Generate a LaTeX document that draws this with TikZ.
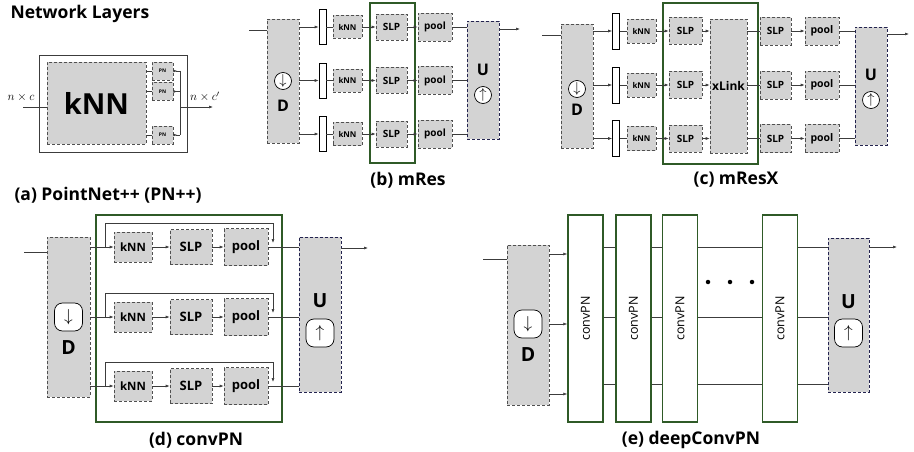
\documentclass[tikz,border=0pt]{standalone}
\usepackage{fontspec}
\setmainfont{Open Sans}
\usepackage{tikz}
\usetikzlibrary{arrows.meta, positioning, calc}
\definecolor{nlGray}{HTML}{D3D3D3}
\definecolor{nlEdge}{HTML}{505050}
\definecolor{nlGreen}{HTML}{2F5A27}
\definecolor{nlNavy}{HTML}{23234F}
\definecolor{nlWire}{HTML}{3C3C3C}
\tikzset{
  fs/.style={font=\bfseries\fontsize{#1}{#1}\selectfont},
  opbox/.style={draw=nlEdge, dash pattern=on 3pt off 2pt, line width=0.6pt, fill=nlGray, inner sep=0pt},
  upbox/.style={opbox, draw=nlNavy},
  convbox/.style={draw=nlGreen, line width=1.3pt, inner sep=0pt},
  splitbar/.style={draw=black, fill=white, line width=0.6pt, minimum width=7, minimum height=35, inner sep=0pt},
  wire/.style={draw=nlWire, line width=0.6pt},
  feed/.style={wire, -{Latex[length=4pt,width=3pt]}},
  backfeed/.style={wire, {Latex[length=4pt,width=3pt,reversed]}-},
  sampler/.style={draw=black, fill=white, circle, line width=0.7pt, inner sep=0pt, minimum size=17, font=\fontsize{15}{15}\selectfont},
  samplersq/.style={draw=black, fill=white, rounded corners=8pt, line width=0.7pt, inner sep=0pt, minimum size=28, font=\fontsize{19}{19}\selectfont},
  subcap/.style={fs=17.5},
}
\begin{document}
\begin{tikzpicture}[x=1pt, y=-1pt]
\useasboundingbox (0,0) rectangle (914,452);

\node[fs=17.5, anchor=west] (title) at (7,14) {Network Layers};

\node[draw=nlWire, line width=0.7pt, minimum width=148, minimum height=97] (pnA) at (113,103.5) {};
\node[opbox, fs=29, minimum width=99, minimum height=82] (knnA) at (96.5,103) {kNN};
\node[opbox, fs=5, minimum width=21, minimum height=18] (pnA1) at (162.5,71) {PN};
\node[opbox, fs=5, minimum width=21, minimum height=18] (pnA2) at (162.5,91.5) {PN};
\node[opbox, fs=5, minimum width=21, minimum height=18] (pnA3) at (162.5,135) {PN};
\coordinate (busA1) at (180,71);
\coordinate (busA3) at (180,135);
\coordinate (inA) at (23,107);
\coordinate (outA) at (213,107);
\draw[wire] (busA1) -- (busA3);
\foreach \r in {1,2,3}{
  \draw[wire] (knnA.east |- pnA\r) -- (pnA\r.west);
  \draw[backfeed] (pnA\r.east) -- (pnA\r.east -| busA1);
}
\draw[wire] (inA) -- (inA -| knnA.west);
\draw[feed] (outA -| busA1) -- (outA);
\node[font=\fontsize{12}{12}\selectfont] (ncA) at (21,97) {$n\times c$};
\node[font=\fontsize{12}{12}\selectfont] (ncoA) at (205,97) {$n\times c'$};
\node[subcap] (capA) at (108,195) {(a) PointNet++ (PN++)};

\node[draw=nlGreen, line width=1.3pt, minimum width=45, minimum height=160] (grpB) at (392.5,83) {};
\node[opbox, minimum width=32, minimum height=124] (dnB) at (283,81) {};
\node[sampler] (dnBs) at (283,81) {$\downarrow$};
\node[fs=16] (dnBl) at (283,106) {D};
\node[upbox, minimum width=32, minimum height=118] (upB) at (483,80) {};
\node[fs=16] (upBl) at (483,70) {U};
\node[sampler] (upBs) at (483,95) {$\uparrow$};
\foreach \r/\y in {1/27,2/80.5,3/134}{
  \node[splitbar] (barB\r) at (322.5,\y) {};
  \node[opbox, fs=8, minimum width=29, minimum height=23] (knnB\r) at (347.5,\y) {kNN};
  \node[opbox, fs=10, minimum width=31, minimum height=26] (slpB\r) at (391.5,\y) {SLP};
  \node[opbox, fs=10, minimum width=34, minimum height=28] (poolB\r) at (435,\y) {pool};
  \draw[feed] (dnB.east |- barB\r) -- (barB\r.west);
  \draw[wire] (barB\r) -- (knnB\r);
  \draw[feed] (knnB\r) -- (slpB\r);
  \draw[feed] (slpB\r) -- (poolB\r);
  \draw[wire] (poolB\r) -- (poolB\r -| upB.west);
}
\coordinate (inB) at (249,30);
\coordinate (outB) at (520,29);
\draw[wire] (inB) -- (inB -| dnB.west);
\draw[feed] (outB -| upB.east) -- (outB);
\node[subcap] (capB) at (408,180) {(b) mRes};

\node[draw=nlGreen, line width=1.3pt, minimum width=95, minimum height=161] (grpC) at (710.5,83.5) {};
\node[opbox, minimum width=32, minimum height=124] (dnC) at (577,86) {};
\node[sampler] (dnCs) at (577,89) {$\downarrow$};
\node[fs=16] (dnCl) at (577,110) {D};
\node[opbox, fs=12, minimum width=37, minimum height=134] (xlC) at (728.5,86) {xLink};
\node[upbox, minimum width=32, minimum height=118] (upC) at (871,86) {};
\node[fs=16] (upCl) at (871,75) {U};
\node[sampler] (upCs) at (871,100) {$\uparrow$};
\foreach \r/\y in {1/31,2/85,3/138.5}{
  \node[splitbar, minimum height=36] (barC\r) at (616,\y) {};
  \node[opbox, fs=8, minimum width=29, minimum height=24] (knnC\r) at (641.5,\y) {kNN};
  \node[opbox, fs=10, minimum width=33, minimum height=27] (slpC\r) at (685.5,\y) {SLP};
  \node[opbox, fs=10, minimum width=31, minimum height=28] (slpoC\r) at (775.5,\y) {SLP};
  \node[opbox, fs=10.5, minimum width=34, minimum height=28] (poolC\r) at (822,\y) {pool};
  \draw[feed] (dnC.east |- barC\r) -- (barC\r.west);
  \draw[wire] (barC\r) -- (knnC\r);
  \draw[feed] (knnC\r) -- (slpC\r);
  \draw[feed] (slpC\r) -- (slpC\r -| xlC.west);
  \draw[wire] (slpoC\r -| xlC.east) -- (slpoC\r);
  \draw[feed] (slpoC\r) -- (poolC\r);
  \draw[wire] (poolC\r) -- (poolC\r -| upC.west);
}
\coordinate (inC) at (542,35);
\coordinate (outC) at (909,34);
\draw[wire] (inC) -- (inC -| dnC.west);
\draw[feed] (outC -| upC.east) -- (outC);
\node[subcap] (capC) at (736,180) {(c) mResX};

\node[draw=nlGreen, line width=1.3pt, minimum width=186, minimum height=207] (grpD) at (189,318.5) {};
\node[opbox, minimum width=43, minimum height=160] (dnD) at (68.5,317) {};
\node[samplersq] (dnDs) at (68.5,317) {$\downarrow$};
\node[fs=19.5] (dnDl) at (68.5,348) {D};
\node[upbox, minimum width=42, minimum height=155] (upD) at (320,314.5) {};
\node[fs=19.5] (upDl) at (320,301) {U};
\node[samplersq] (upDs) at (320,333) {$\uparrow$};
\foreach \r/\y in {1/247,2/317,3/386}{
  \node[opbox, fs=11.5, minimum width=38, minimum height=30] (knnD\r) at (133,\y) {kNN};
  \node[opbox, fs=13, minimum width=42, minimum height=35] (slpD\r) at (191,\y) {SLP};
  \node[opbox, fs=13, minimum width=44, minimum height=37] (poolD\r) at (246,\y) {pool};
  \coordinate (skD\r) at (105,\y);
  \coordinate (skeD\r) at (273,\y-4);
  \draw[feed] (dnD.east |- knnD\r) -- (knnD\r.west);
  \draw[feed] (knnD\r) -- (slpD\r);
  \draw[feed] (slpD\r) -- (poolD\r);
  \draw[wire] (poolD\r) -- (poolD\r -| upD.west);
  \draw[feed] (skD\r) -- ++(0,-24) -| (skeD\r);
}
\coordinate (inD) at (24,252);
\coordinate (outD) at (368,248);
\draw[wire] (inD) -- (inD -| dnD.west);
\draw[feed] (outD -| upD.east) -- (outD);
\node[subcap] (capD) at (196,440) {(d) convPN};

\node[opbox, minimum width=42, minimum height=160] (dnE) at (528,325) {};
\node[samplersq] (dnEs) at (528,324) {$\downarrow$};
\node[fs=19.5] (dnEl) at (528,355) {D};
\node[upbox, minimum width=41, minimum height=154] (upE) at (848.5,315) {};
\node[fs=19.5] (upEl) at (848.5,302) {U};
\node[samplersq] (upEs) at (848.5,333) {$\uparrow$};
\foreach \k/\x in {1/585.5,2/633.5,3/680,4/780}{
  \node[convbox, fill=white, rotate=90, minimum width=207, minimum height=35, font=\fontsize{12.5}{12.5}\selectfont] (cpE\k) at (\x,318.5) {convPN};
}
\foreach \y in {254,324,394}{
  \draw[feed] (dnE.east |- 0,\y) -- (cpE1.north |- 0,\y);
}
\foreach \y in {247,317,384}{
  \draw[wire] (cpE1.south |- 0,\y) -- (cpE2.north |- 0,\y);
  \draw[wire] (cpE2.south |- 0,\y) -- (cpE3.north |- 0,\y);
  \draw[wire] (cpE3.south |- 0,\y) -- (cpE4.north |- 0,\y);
  \draw[wire] (cpE4.south |- 0,\y) -- (upE.west |- 0,\y);
}
\foreach \k/\x in {1/708,2/730,3/752}{
  \node[circle, fill=black, inner sep=0pt, minimum size=4.5] (dotE\k) at (\x,282) {};
}
\coordinate (inE) at (483,259);
\coordinate (outE) at (897,247);
\draw[wire] (inE) -- (inE -| dnE.west);
\draw[feed] (outE -| upE.east) -- (outE);
\node[subcap] (capE) at (691,440) {(e) deepConvPN};
\end{tikzpicture}
\end{document}
